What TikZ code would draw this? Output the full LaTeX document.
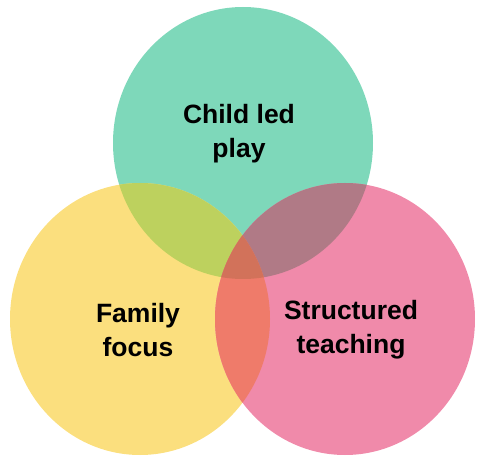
\documentclass[tikz,border=0pt]{standalone}
\usepackage{fontspec}
\setmainfont{Liberation Sans}
\definecolor{playgreen}{HTML}{7ED8BA}
\definecolor{familyyellow}{HTML}{FBDF7E}
\definecolor{teachpink}{HTML}{F08AAA}
\definecolor{greenyellow}{HTML}{BDD15E}
\definecolor{greenpink}{HTML}{B07A86}
\definecolor{yellowpink}{HTML}{EF7B6A}
\definecolor{allthree}{HTML}{D2725A}
\tikzset{
  ring/.style={x radius=130, y radius=136},
  label/.style={align=center, text=black, font=\fontsize{26.5}{34}\selectfont\bfseries}
}
\begin{document}
\begin{tikzpicture}[x=1pt, y=1pt]
\useasboundingbox (0,0) rectangle (480,456);
% Centros de los circulos
\coordinate (play) at (243,313);
\coordinate (family) at (140,137);
\coordinate (teach) at (345,137);
% Circulos
\fill[playgreen] (play) ellipse [ring];
\fill[familyyellow] (family) ellipse [ring];
\fill[teachpink] (teach) ellipse [ring];
% Intersecciones
\begin{scope}
\clip (play) ellipse [ring];
\fill[greenyellow] (family) ellipse [ring];
\fill[greenpink] (teach) ellipse [ring];
\end{scope}
\begin{scope}
\clip (family) ellipse [ring];
\fill[yellowpink] (teach) ellipse [ring];
\clip (teach) ellipse [ring];
\fill[allthree] (play) ellipse [ring];
\end{scope}
% Textos
\node[label] (playtext) at (239,322) {Child led\\play};
\node[label] (familytext) at (138,126) {Family\\focus};
\node[label] (teachtext) at (351,126) {Structured\\teaching};
\end{tikzpicture}
\end{document}
